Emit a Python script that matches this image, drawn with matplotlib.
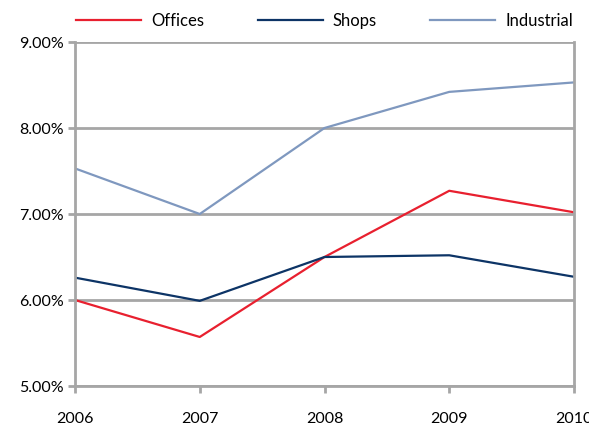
import matplotlib
matplotlib.use("Agg")
import matplotlib.pyplot as plt
from matplotlib.ticker import FuncFormatter

years = [2006, 2007, 2008, 2009, 2010]
offices = [6.00, 5.57, 6.50, 7.27, 7.02]
shops = [6.26, 5.99, 6.50, 6.52, 6.27]
industrial = [7.53, 7.00, 8.00, 8.42, 8.53]

plt.rcParams['font.family'] = ['Lato', 'DejaVu Sans']
fig = plt.figure(figsize=(5.89, 4.25), dpi=100)
ax = fig.add_axes([75/589, 39/425, (574-75)/589, (386-42)/425])

grey = '#a6a6a6'
ax.plot(years, offices, color='#e8202f', lw=1.6, label='Offices')
ax.plot(years, shops, color='#0d3466', lw=1.6, label='Shops')
ax.plot(years, industrial, color='#7f98bf', lw=1.6, label='Industrial')

ax.set_xlim(2006, 2010)
ax.set_ylim(5, 9)
ax.set_yticks([5, 6, 7, 8, 9])
ax.set_xticks(years)
ax.yaxis.set_major_formatter(FuncFormatter(lambda v, p: f"{v:.2f}%"))
ax.grid(axis='y', color=grey, lw=2)
ax.set_axisbelow(True)
for s in ['left', 'right', 'bottom']:
    ax.spines[s].set_color(grey)
    ax.spines[s].set_linewidth(2)
ax.spines['top'].set_visible(False)
ax.tick_params(axis='y', colors=grey, length=5, width=2, labelcolor='black', labelsize=11.5, pad=3)
ax.tick_params(axis='x', colors=grey, length=5, width=2, labelcolor='black', labelsize=11.5, pad=14)

fig.legend(loc='center', bbox_to_anchor=(324.5/589, 1 - 21/425), ncol=3, frameon=False,
           handlelength=3.9, columnspacing=3.2, handletextpad=0.6, fontsize=12)
fig.savefig('out.png', dpi=100)
